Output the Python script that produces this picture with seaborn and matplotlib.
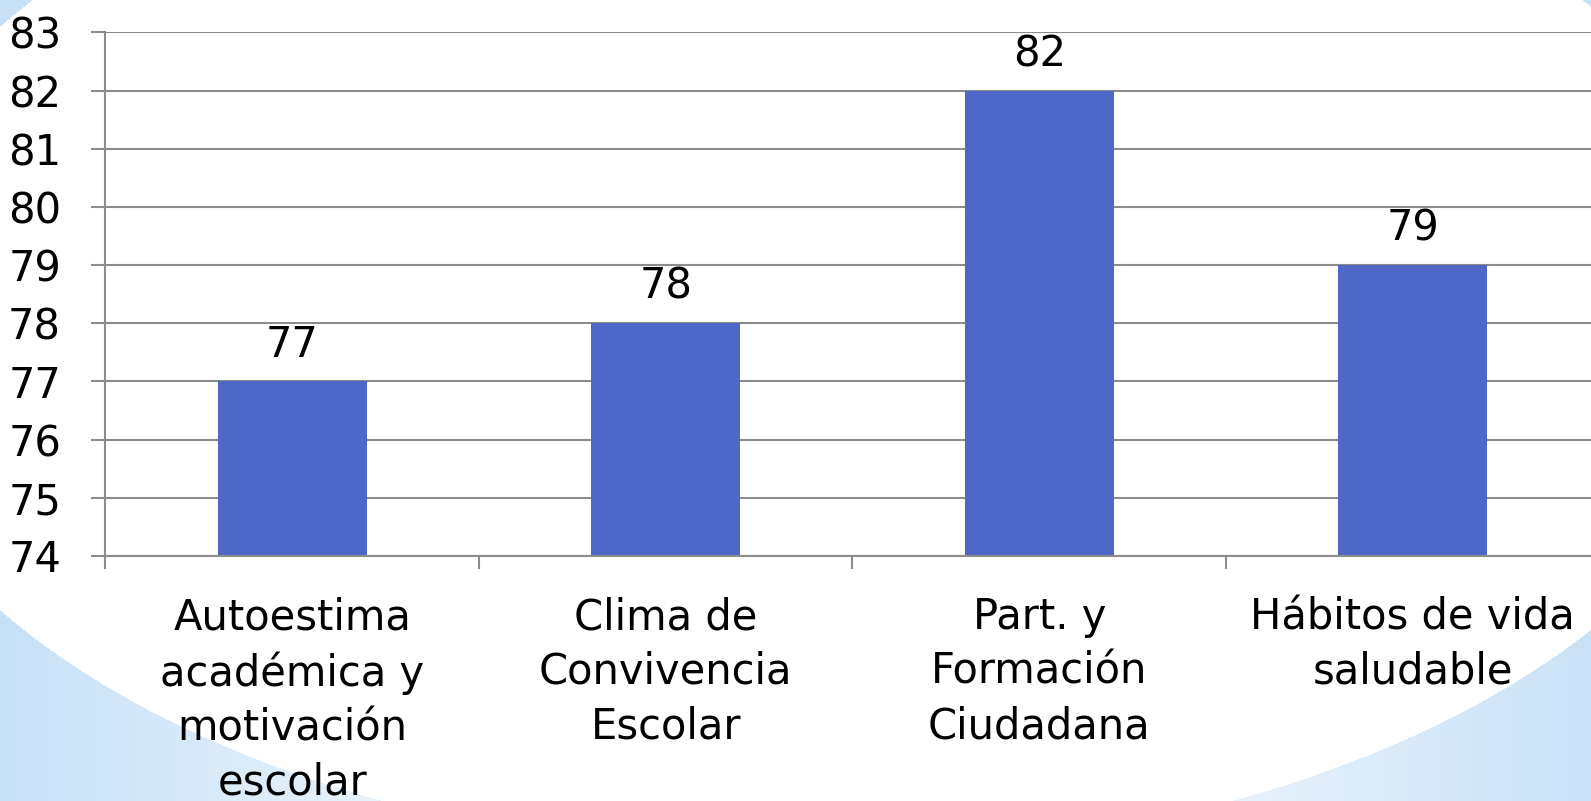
import numpy as np
import matplotlib
matplotlib.use("Agg")
import matplotlib.pyplot as plt
import seaborn as sns

# data
categories = [
    "Autoestima\nacadémica y\nmotivación\nescolar",
    "Clima de\nConvivencia\nEscolar",
    "Part. y\nFormación\nCiudadana",
    "Hábitos de vida\nsaludable",
]
values = [77, 78, 82, 79]
y_ticks = list(range(74, 84))

BAR_COLOR = "#4F68C8"
GRID_COLOR = "#8C8C8C"

sns.set_theme(style="white")
plt.rcParams["font.family"] = ["DejaVu Sans"]
plt.rcParams["text.color"] = "black"
plt.rcParams["xtick.color"] = "black"
plt.rcParams["ytick.color"] = "black"

W, H = 1591, 801
fig = plt.figure(figsize=(W / 100, H / 100), dpi=100)

# decorative background: light blue corners outside a big white ellipse
yy, xx = np.mgrid[0:H, 0:W]
cx, cy, a, b = 807.0, 318.0, 961.0, 538.0
outside = ((xx - cx) / a) ** 2 + ((yy - cy) / b) ** 2 > 1.0
t = np.clip(np.abs(xx - cx) / cx, 0, 1) ** 1.3
blue = np.array([0.78, 0.88, 0.97])
img = np.ones((H, W, 3))
for c in range(3):
    chan = 1.0 - t * (1.0 - blue[c])
    img[..., c] = np.where(outside, chan, 1.0)
bg = fig.add_axes([0, 0, 1, 1], zorder=0)
bg.imshow(img, aspect="auto", interpolation="bilinear")
bg.axis("off")

# main chart
ax = fig.add_axes([0.0663, 0.306, 0.939, 0.6535], zorder=1)
ax.patch.set_alpha(0)
sns.barplot(x=categories, y=values, color=BAR_COLOR, width=0.4,
            saturation=1, edgecolor="none", linewidth=0, ax=ax)
ax.set_ylim(74, 83)
ax.set_xlim(-0.5, 3.5)
ax.set_yticks(y_ticks)
ax.yaxis.grid(True, color=GRID_COLOR, linewidth=1.5)
ax.set_axisbelow(True)
ax.set_xlabel("")
ax.set_ylabel("")

for side in ["top", "right"]:
    ax.spines[side].set_visible(False)
for side in ["left", "bottom"]:
    ax.spines[side].set_color(GRID_COLOR)
    ax.spines[side].set_linewidth(1.5)

ax.tick_params(axis="y", direction="out", length=10, width=1.5,
               color=GRID_COLOR, labelcolor="black", pad=22,
               labelsize=30, left=True)
ax.tick_params(axis="x", which="major", length=0, pad=29,
               labelsize=30, labelcolor="black")
ax.set_xticks([-0.5, 0.5, 1.5, 2.5, 3.5], minor=True)
ax.tick_params(axis="x", which="minor", direction="out", length=9,
               width=1.5, color=GRID_COLOR, bottom=True)

for lbl in ax.get_xticklabels():
    lbl.set_multialignment("center")
    lbl.set_linespacing(1.38)

ax.bar_label(ax.containers[0], fmt="%d", padding=11, fontsize=30,
             color="black")

fig.savefig("out.png", dpi=100)
